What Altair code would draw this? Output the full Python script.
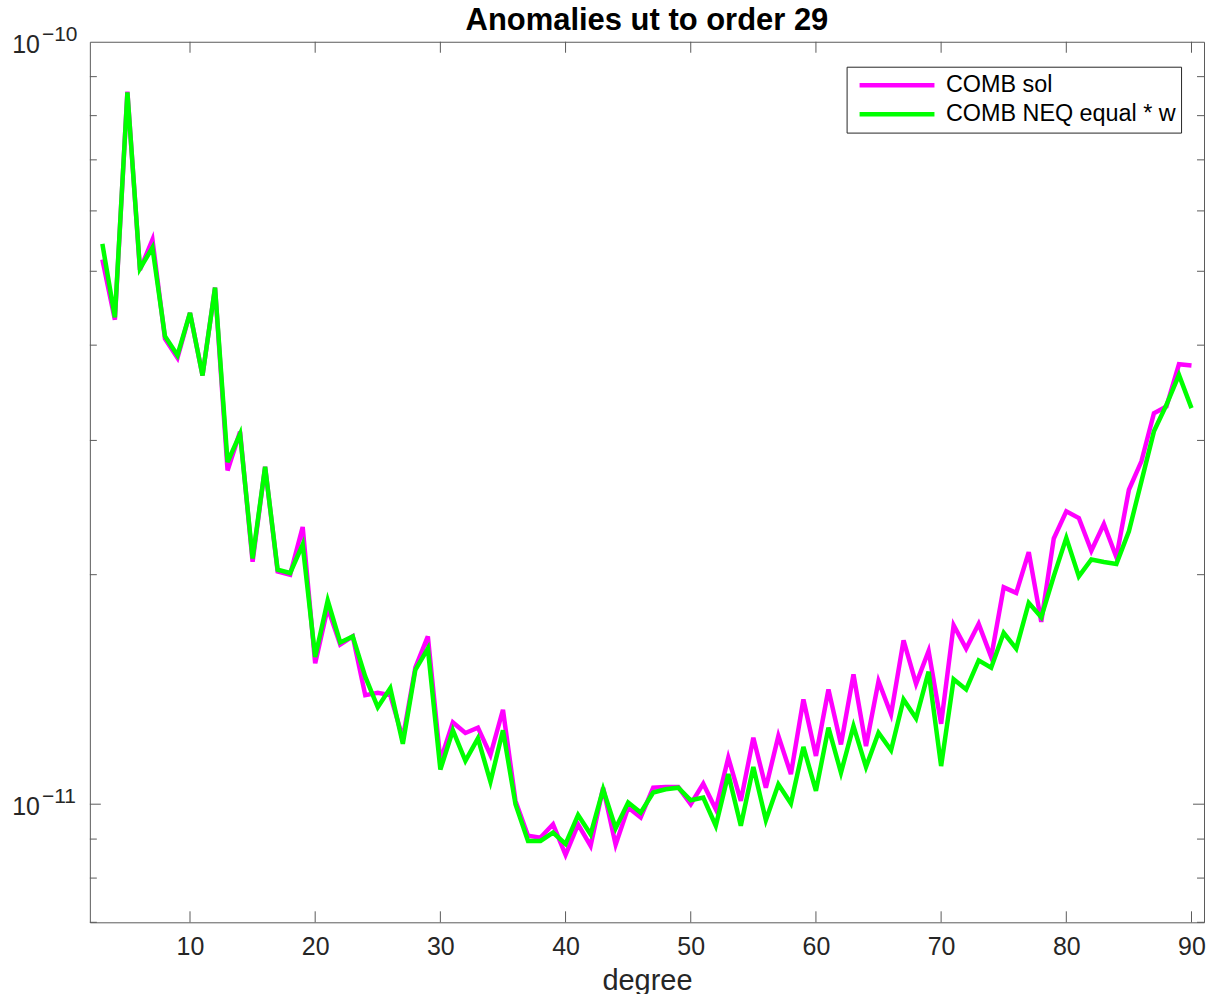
import altair as alt
import pandas as pd

# ---- data -------------------------------------------------------------
degree = list(range(3, 91))

comb_sol = [
    5.18e-11, 4.32e-11, 8.60e-11, 5.02e-11, 5.50e-11, 4.08e-11, 3.85e-11, 4.41e-11,
    3.65e-11, 4.76e-11, 2.74e-11, 3.08e-11, 2.08e-11, 2.77e-11, 2.02e-11, 2.00e-11,
    2.31e-11, 1.53e-11, 1.81e-11, 1.62e-11, 1.66e-11, 1.39e-11, 1.40e-11, 1.39e-11,
    1.22e-11, 1.51e-11, 1.66e-11, 1.14e-11, 1.28e-11, 1.24e-11, 1.26e-11, 1.16e-11,
    1.33e-11, 1.01e-11, 9.09e-12, 9.04e-12, 9.41e-12, 8.58e-12, 9.41e-12, 8.82e-12,
    1.051e-11, 8.85e-12, 9.90e-12, 9.61e-12, 1.051e-11, 1.053e-11, 1.053e-11, 1.00e-11,
    1.064e-11, 9.85e-12, 1.151e-11, 1.01e-11, 1.222e-11, 1.051e-11, 1.229e-11, 1.095e-11,
    1.372e-11, 1.157e-11, 1.414e-11, 1.198e-11, 1.480e-11, 1.192e-11, 1.450e-11, 1.312e-11,
    1.640e-11, 1.438e-11, 1.588e-11, 1.275e-11, 1.717e-11, 1.600e-11, 1.724e-11, 1.559e-11,
    1.925e-11, 1.893e-11, 2.141e-11, 1.734e-11, 2.231e-11, 2.422e-11, 2.373e-11, 2.150e-11,
    2.331e-11, 2.108e-11, 2.585e-11, 2.816e-11, 3.257e-11, 3.324e-11, 3.776e-11, 3.761e-11,
]

comb_neq_w = [
    5.43e-11, 4.35e-11, 8.58e-11, 5.04e-11, 5.37e-11, 4.11e-11, 3.88e-11, 4.41e-11,
    3.65e-11, 4.76e-11, 2.81e-11, 3.06e-11, 2.10e-11, 2.77e-11, 2.03e-11, 2.01e-11,
    2.19e-11, 1.56e-11, 1.85e-11, 1.63e-11, 1.66e-11, 1.47e-11, 1.34e-11, 1.42e-11,
    1.20e-11, 1.50e-11, 1.60e-11, 1.11e-11, 1.25e-11, 1.14e-11, 1.22e-11, 1.07e-11,
    1.25e-11, 1.00e-11, 8.95e-12, 8.95e-12, 9.18e-12, 8.87e-12, 9.68e-12, 9.13e-12,
    1.046e-11, 9.30e-12, 1.005e-11, 9.75e-12, 1.036e-11, 1.046e-11, 1.051e-11, 1.012e-11,
    1.020e-11, 9.37e-12, 1.095e-11, 9.37e-12, 1.119e-11, 9.53e-12, 1.062e-11, 1.002e-11,
    1.189e-11, 1.041e-11, 1.260e-11, 1.100e-11, 1.266e-11, 1.119e-11, 1.241e-11, 1.177e-11,
    1.372e-11, 1.296e-11, 1.492e-11, 1.122e-11, 1.458e-11, 1.414e-11, 1.544e-11, 1.510e-11,
    1.678e-11, 1.600e-11, 1.837e-11, 1.759e-11, 1.991e-11, 2.235e-11, 1.990e-11, 2.094e-11,
    2.078e-11, 2.066e-11, 2.280e-11, 2.651e-11, 3.083e-11, 3.341e-11, 3.657e-11, 3.307e-11,
]

series_names = ["COMB sol", "COMB NEQ equal * w"]
series_colors = ["#ff00ff", "#00ff00"]

x_tick_values = [10, 20, 30, 40, 50, 60, 70, 80, 90]
y_label_values = [1e-11, 1e-10]
y_label_base = ["10", "10"]
y_label_exp = ["\u221211", "\u221210"]
y_major_ticks = [1e-11]
y_minor_ticks = [7e-12, 8e-12, 9e-12, 2e-11, 3e-11, 4e-11, 5e-11, 6e-11, 7e-11, 8e-11, 9e-11]

# ---- layout / style ---------------------------------------------------
W, H = 1116, 882
FONT = "Liberation Sans"
AXIS_COLOR = "#262626"
BOX_COLOR = "#5a5a5a"
MAJOR_LEN = 11
MINOR_LEN = 7

lines_df = pd.DataFrame({
    "degree": degree + degree,
    "value": comb_sol + comb_neq_w,
    "series": [series_names[0]] * len(degree) + [series_names[1]] * len(degree),
})

x_enc = alt.X(
    "degree:Q",
    scale=alt.Scale(domain=[2, 91], nice=False, zero=False),
    axis=alt.Axis(
        values=x_tick_values, ticks=False, domain=False, grid=False,
        labelFont=FONT, labelFontSize=25, labelColor=AXIS_COLOR, labelPadding=12,
        title="degree", titleFont=FONT, titleFontSize=29, titleFontWeight="normal",
        titleColor=AXIS_COLOR, titlePadding=7,
    ),
)

# y labels are drawn as text layers (base + raised exponent); the axis only
# reserves the space on the left
y_enc = alt.Y(
    "value:Q",
    scale=alt.Scale(type="log", domain=[7e-12, 1e-10], nice=False),
    axis=alt.Axis(
        values=y_label_values, labels=False, ticks=False, domain=False, grid=False,
        title=None, minExtent=85, maxExtent=85,
    ),
)

color_enc = alt.Color(
    "series:N",
    scale=alt.Scale(domain=series_names, range=series_colors),
    legend=alt.Legend(
        title=None, orient="none", legendX=758, legendY=25,
        symbolType="stroke", symbolSize=5625, symbolStrokeWidth=4.5,
        clipHeight=28, rowPadding=1, symbolOffset=6,
        labelFont=FONT, labelFontSize=23.4, labelColor="#000000", labelOffset=9,
        labelLimit=400, padding=4.5, strokeColor=AXIS_COLOR, fillColor="#ffffff",
    ),
)

line_layers = [
    alt.Chart(lines_df)
    .transform_filter(alt.datum.series == name)
    .mark_line(strokeWidth=4.5)
    .encode(x=x_enc, y=y_enc, color=color_enc)
    for name in series_names
]

# inward-pointing ticks on all four sides of the box
xt_df = pd.DataFrame({"degree": x_tick_values})
x_ticks_bottom = alt.Chart(xt_df).mark_rule(color=BOX_COLOR, strokeWidth=1).encode(
    x=x_enc, y=alt.value(H), y2=alt.value(H - MAJOR_LEN))
x_ticks_top = alt.Chart(xt_df).mark_rule(color=BOX_COLOR, strokeWidth=1).encode(
    x=x_enc, y=alt.value(0), y2=alt.value(MAJOR_LEN))

def y_tick_layers(values, length):
    d = pd.DataFrame({"value": values})
    left = alt.Chart(d).mark_rule(color=BOX_COLOR, strokeWidth=1).encode(
        y=y_enc, x=alt.value(0), x2=alt.value(length))
    right = alt.Chart(d).mark_rule(color=BOX_COLOR, strokeWidth=1).encode(
        y=y_enc, x=alt.value(W), x2=alt.value(W - length))
    return [left, right]

tick_layers = [x_ticks_bottom, x_ticks_top] + y_tick_layers(y_major_ticks, MAJOR_LEN) \
    + y_tick_layers(y_minor_ticks, MINOR_LEN)

# power-of-ten labels: "10" with a superscript exponent
ylab_df = pd.DataFrame({"value": y_label_values, "base": y_label_base, "exp": y_label_exp})
ylab_base = alt.Chart(ylab_df).mark_text(
    align="right", baseline="middle", font=FONT, fontSize=25, color=AXIS_COLOR, dy=3,
).encode(y=y_enc, x=alt.value(-50), text="base:N")
ylab_exp = alt.Chart(ylab_df).mark_text(
    align="left", baseline="middle", font=FONT, fontSize=21, color=AXIS_COLOR, dy=-7,
).encode(y=y_enc, x=alt.value(-48), text="exp:N")

chart = (
    alt.layer(*line_layers, *tick_layers, ylab_base, ylab_exp)
    .properties(
        width=W, height=H,
        title=alt.Title(
            "Anomalies ut to order 29", font=FONT, fontSize=31, fontWeight="bold",
            color="#000000", offset=-13,
        ),
        padding={"left": 5, "top": 4, "right": 5, "bottom": 0},
        background="#ffffff",
    )
    .configure_view(stroke=BOX_COLOR, strokeWidth=1)
)

chart.save("out.html", embed_options={"renderer": "svg", "actions": False})
